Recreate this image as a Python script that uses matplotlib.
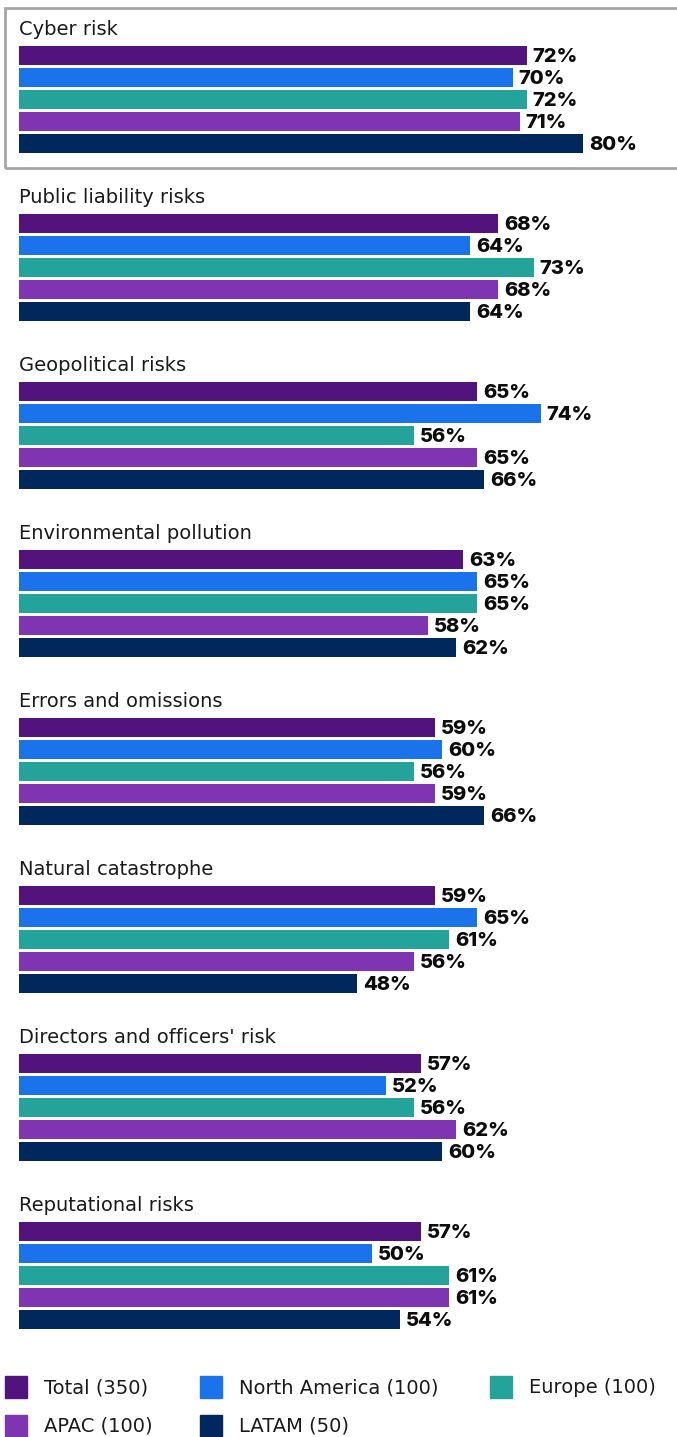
import matplotlib
matplotlib.use("Agg")
import matplotlib.pyplot as plt
from matplotlib.patches import Rectangle

categories = [
    "Cyber risk",
    "Public liability risks",
    "Geopolitical risks",
    "Environmental pollution",
    "Errors and omissions",
    "Natural catastrophe",
    "Directors and officers' risk",
    "Reputational risks",
]
series = ["Total (350)", "North America (100)", "Europe (100)", "APAC (100)", "LATAM (50)"]
total = [72, 68, 65, 63, 59, 59, 57, 57]
north_america = [70, 64, 74, 65, 60, 65, 52, 50]
europe = [72, 73, 56, 65, 56, 61, 56, 61]
apac = [71, 68, 65, 58, 59, 56, 62, 61]
latam = [80, 64, 66, 62, 66, 48, 60, 54]
colors = ["#52137D", "#1B73EB", "#24A39B", "#7F35B2", "#00285C"]

values = [total, north_america, europe, apac, latam]

W, H = 677, 1437
fig = plt.figure(figsize=(W / 100, H / 100), dpi=100)
fig.patch.set_facecolor("white")

# vertical axis in pixel-like units, horizontal axis in percent
x0 = 19
px_per_pct = 7.05
ax = fig.add_axes([x0 / W, 0, (W - x0) / W, 1])
ax.set_xlim(0, (W - x0) / px_per_pct)
ax.set_ylim(H, 0)
ax.axis("off")

group_pitch = 168
bar_pitch = 22
bar_h = 19
first_bar = 55.5
title_base = 35

text_family = ["DejaVu Sans"]
title_font = dict(family=text_family, size=14, color="#1a1a1a")
label_font = dict(family=["Inter", "DejaVu Sans"], size=14.5, weight="heavy", color="#0d0d0d")

for g, cat in enumerate(categories):
    gy = g * group_pitch
    ax.text(0, title_base + gy, cat, ha="left", va="baseline", **title_font)
    for s, vals in enumerate(values):
        yc = first_bar + gy + s * bar_pitch
        v = vals[g]
        ax.barh(yc, v, height=bar_h, color=colors[s], left=0)
        ax.text(v + 6 / px_per_pct, yc + 1, f"{v}%", ha="left", va="center", **label_font)

# highlight box around the first group
fig.add_artist(Rectangle((5 / W, 1 - 168 / H), (W + 5) / W, 160 / H,
                         transform=fig.transFigure, fill=False,
                         edgecolor="#A6A6A6", linewidth=2))

# legend
legend_pos = [(5, 1387), (200, 1387), (490, 1387), (5, 1426), (200, 1426)]
for i, name in enumerate(series):
    lx, ly = legend_pos[i]
    fig.add_artist(Rectangle((lx / W, 1 - (ly + 11) / H), 22 / W, 22 / H,
                             transform=fig.transFigure, color=colors[i]))
    fig.text((lx + 39) / W, 1 - (ly + 6) / H, name, ha="left", va="baseline",
             family=text_family, size=14, color="#1a1a1a")

fig.savefig("out.png", dpi=100, facecolor="white")
